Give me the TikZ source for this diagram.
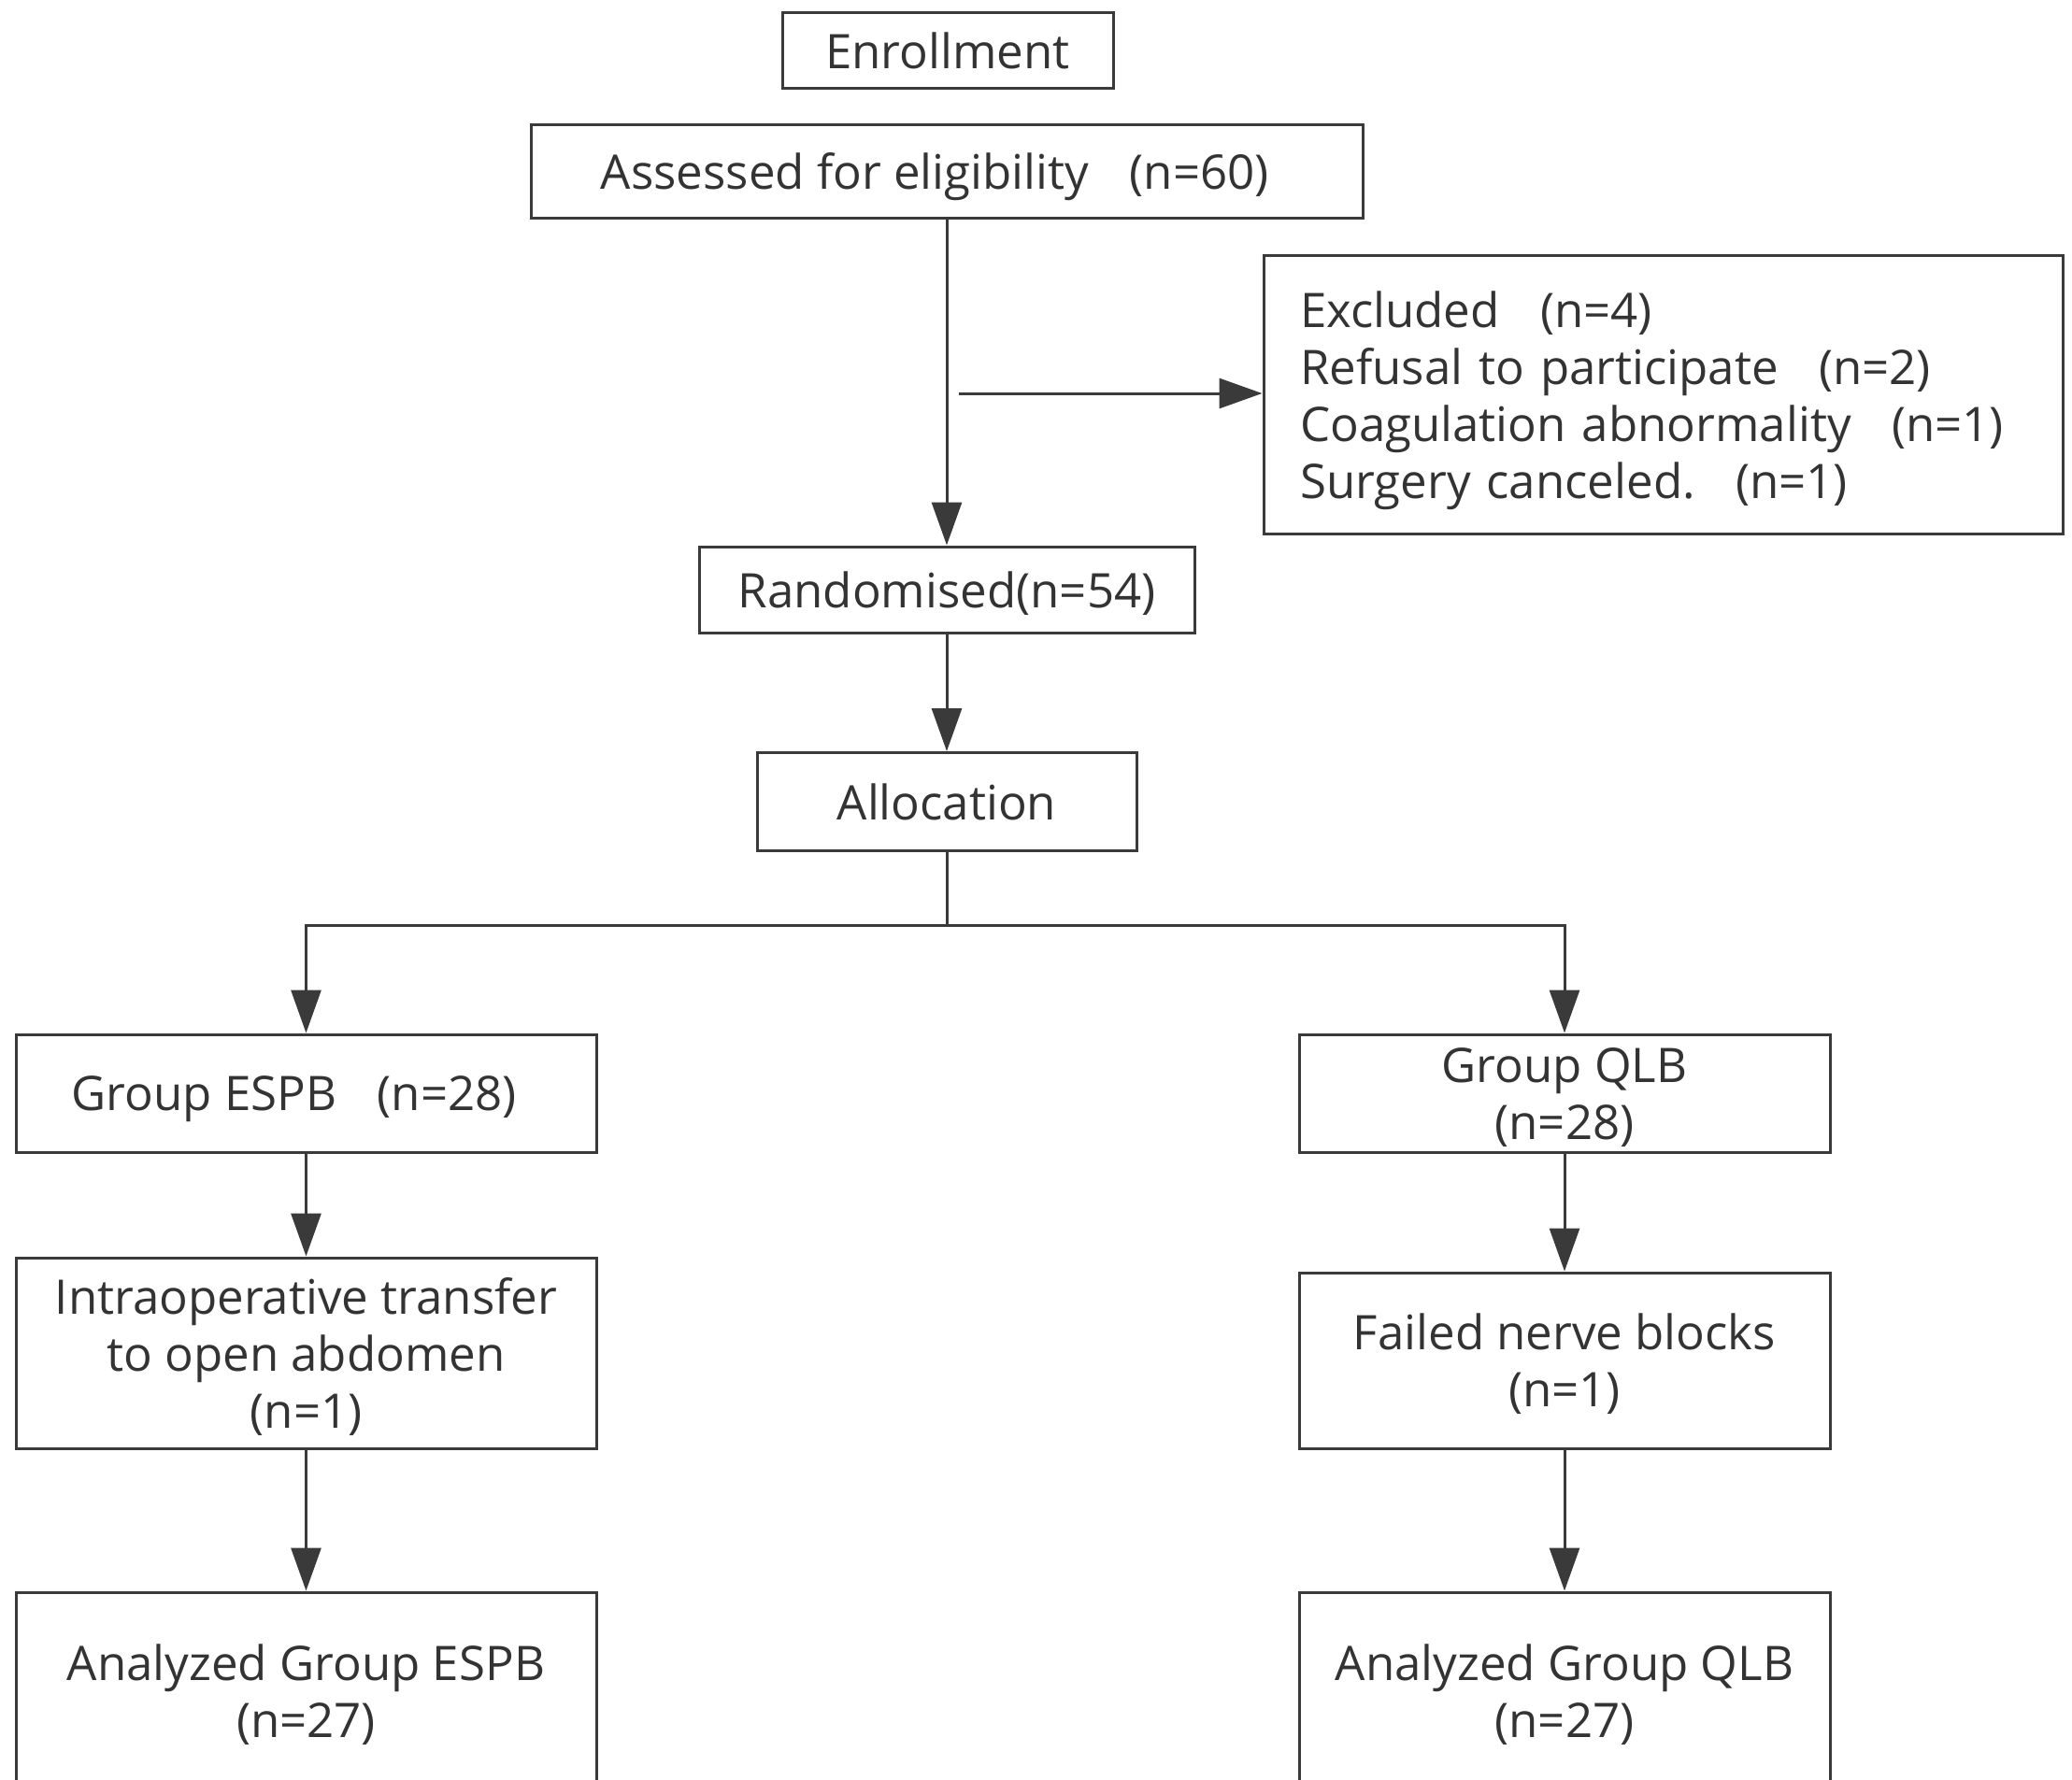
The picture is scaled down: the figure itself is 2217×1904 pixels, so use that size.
\documentclass[tikz,border=0pt]{standalone}
\usepackage{fontspec}
\setmainfont{Open Sans}
\usetikzlibrary{arrows.meta}
\definecolor{linec}{HTML}{3A3A3A}
\definecolor{textc}{HTML}{333333}
\newcommand{\fwgap}{\hspace{0.85em}}
\newcommand{\fwend}{\hspace{0.5em}}
\begin{document}
\begin{tikzpicture}[x=1pt,y=-1pt,
  box/.style={draw=linec, line width=3pt, fill=white, inner sep=0pt, align=center,
    text=textc, text depth=0pt, font=\fontsize{51}{61}\selectfont},
  arr/.style={draw=linec, line width=3pt, -{Triangle[length=46pt,width=32pt]}},
  ln/.style={draw=linec, line width=3pt}]
\useasboundingbox (0,0) rectangle (2217,1904);
\clip (0,0) rectangle (2217,1904);
\fill[white] (0,0) rectangle (2217,1904);

\node[box, minimum width=354pt, minimum height=81pt] (enr) at (1014,54) {Enrollment};
\node[box, minimum width=890pt, minimum height=100pt] (ass) at (1013,183) {Assessed for eligibility\fwgap(n=60)\fwend};
\node[box, minimum width=855pt, minimum height=298pt] (exc) at (1779.5,422) {};
\node[inner sep=0pt, text=textc, font=\fontsize{51}{61}\selectfont, align=left, text width=777pt,
      yshift=-7pt] (exct) at (exc.center)
  {Excluded\fwgap(n=4)\\Refusal to participate\fwgap(n=2)\\Coagulation abnormality\fwgap(n=1)\\Surgery canceled.\fwgap(n=1)};
\node[box, minimum width=530pt, minimum height=92pt] (ran) at (1013,631) {Randomised(n=54)};
\node[box, minimum width=406pt, minimum height=105pt] (all) at (1013,858) {Allocation};

\node[box, minimum width=621pt, minimum height=126pt] (ge) at (327.5,1170) {Group ESPB\fwgap(n=28)\fwend};
\node[box, minimum width=568pt, minimum height=126pt] (gq) at (1674,1170) {Group QLB\\(n=28)};
\node[box, minimum width=621pt, minimum height=204pt] (ie) at (327.5,1448) {Intraoperative transfer\\to open abdomen\\(n=1)};
\node[box, minimum width=568pt, minimum height=188pt] (fq) at (1674,1456) {Failed nerve blocks\\(n=1)};
\node[box, minimum width=621pt, minimum height=212pt] (ae) at (327.5,1810) {Analyzed Group ESPB\\(n=27)};
\node[box, minimum width=568pt, minimum height=212pt] (aq) at (1674,1810) {Analyzed Group QLB\\(n=27)};

\coordinate (br) at (1026,421);
\coordinate (sp) at (1013,990);
\draw[arr] (ass.south) -- (ran.north);
\draw[arr] (br) -- (br -| exc.west);
\draw[arr] (ran.south) -- (all.north);
\draw[ln] (all.south) -- (sp);
\draw[arr] (sp) -| (ge.north);
\draw[arr] (sp) -| (gq.north);
\draw[arr] (ge.south) -- (ie.north);
\draw[arr] (ie.south) -- (ae.north);
\draw[arr] (gq.south) -- (fq.north);
\draw[arr] (fq.south) -- (aq.north);
\end{tikzpicture}
\end{document}
